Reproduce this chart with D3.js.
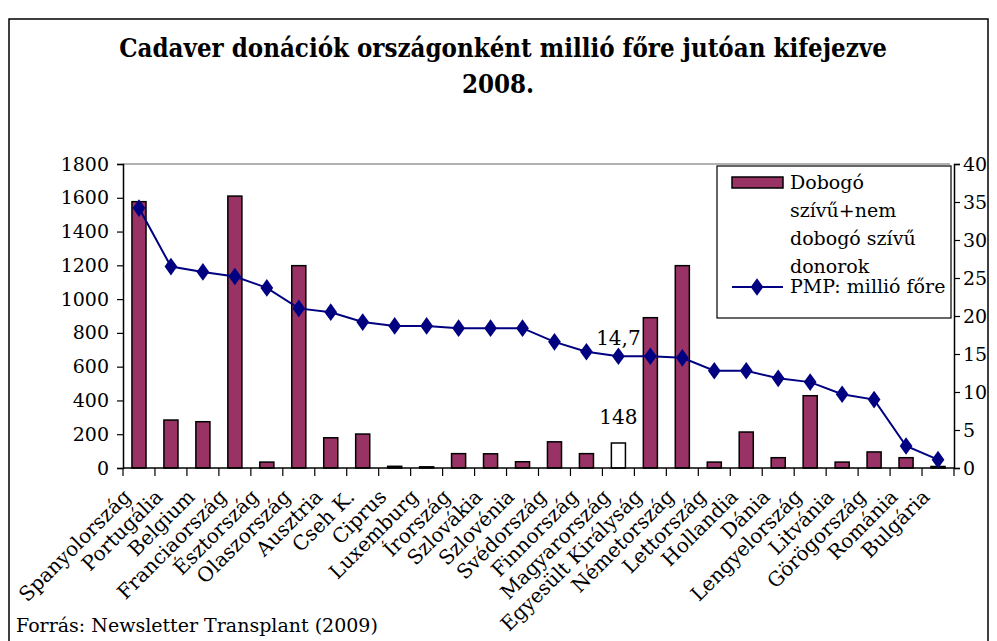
<!DOCTYPE html>
<html>
<head>
<meta charset="utf-8">
<script src="https://cdn.jsdelivr.net/npm/d3@7"></script>
<style>
  body { margin: 0; background: #fff; }
  svg text { font-family: "DejaVu Serif", serif; fill: #000; }
  .title { font-family: "DejaVu Serif Condensed", "DejaVu Serif", serif; font-stretch: condensed; font-weight: bold; }
</style>
</head>
<body>
<div id="chart"></div>
<script>
// data
var countries = ["Spanyolország","Portugália","Belgium","Franciaország","Észtország","Olaszország",
  "Ausztria","Cseh K.","Ciprus","Luxemburg","Írország","Szlovákia","Szlovénia","Svédország",
  "Finnország","Magyarország","Egyesült Királyság","Németország","Lettország","Hollandia",
  "Dánia","Lengyelország","Litvánia","Görögország","Románia","Bulgária"];
var donors = [1577,284,274,1610,35,1198,179,201,10,7,85,84,37,155,85,148,890,1198,35,213,61,428,35,95,61,9];
var pmp = [34.2,26.5,25.8,25.2,23.7,21.0,20.5,19.2,18.7,18.7,18.4,18.4,18.4,16.6,15.3,14.7,14.7,14.5,12.8,12.8,11.8,11.3,9.7,9.0,2.9,1.1];
var leftTicks = [0,200,400,600,800,1000,1200,1400,1600,1800];
var rightTicks = [0,5,10,15,20,25,30,35,40];
var highlight = "Magyarország";
var titleLines = ["Cadaver donációk országonként millió főre jutóan kifejezve", "2008."];
var legendBar = ["Dobogó", "szívű+nem", "dobogó szívű", "donorok"];
var legendLine = "PMP: millió főre";
var source = "Forrás: Newsletter Transplant (2009)";

var width = 997, height = 641;
var pLeft = 123, pRight = 954, pTop = 164, pBottom = 468;

var svg = d3.select("#chart").append("svg").attr("width", width).attr("height", height);

// outer frame
svg.append("rect").attr("x", 9).attr("y", 19).attr("width", 979).attr("height", 640)
  .attr("fill", "none").attr("stroke", "#000").attr("stroke-width", 1.5);

// title, fit to the reference width
var tl = svg.append("text").attr("class", "title").attr("x", 503).attr("y", 57).attr("text-anchor", "middle")
  .style("font-size", "24px").text(titleLines[0]);
var w0 = tl.node().getComputedTextLength();
var fs = 24 * 768 / w0;
tl.style("font-size", fs + "px");
svg.append("text").attr("class", "title").attr("x", 498).attr("y", 93).attr("text-anchor", "middle")
  .style("font-size", fs + "px").text(titleLines[1]);

var x = d3.scaleBand().domain(countries).range([pLeft, pRight]).paddingInner(0.56).paddingOuter(0.28);
var yL = d3.scaleLinear().domain([0, 1800]).range([pBottom, pTop]);
var yR = d3.scaleLinear().domain([0, 40]).range([pBottom, pTop]);

// plot area top border
svg.append("line").attr("x1", pLeft).attr("x2", pRight - 4).attr("y1", pTop).attr("y2", pTop)
  .attr("stroke", "#999").attr("stroke-width", 1.5);

// bars
svg.append("g").selectAll("rect").data(countries).enter().append("rect")
  .attr("x", function(d) { return x(d); })
  .attr("width", x.bandwidth())
  .attr("y", function(d, i) { return yL(donors[i]); })
  .attr("height", function(d, i) { return pBottom - yL(donors[i]); })
  .attr("fill", function(d) { return d == highlight ? "#fff" : "#993366"; })
  .attr("stroke", "#000").attr("stroke-width", 1.5);

// axes
var gl = svg.append("g").attr("transform", "translate(" + pLeft + ",0)")
  .call(d3.axisLeft(yL).tickValues(leftTicks).tickFormat(d3.format("d")).tickSize(6).tickPadding(8));
var gr = svg.append("g").attr("transform", "translate(" + pRight + ",0)")
  .call(d3.axisRight(yR).tickValues(rightTicks).tickSize(6).tickPadding(3));
[gl, gr].forEach(function(g) {
  g.select(".domain").attr("stroke", "#000").attr("stroke-width", 1.5);
  g.selectAll(".tick line").attr("stroke", "#000").attr("stroke-width", 1.2);
  g.selectAll("text").style("font-family", "DejaVu Serif").style("font-size", "19px");
});

svg.append("line").attr("x1", pLeft).attr("x2", pRight).attr("y1", pBottom).attr("y2", pBottom)
  .attr("stroke", "#000").attr("stroke-width", 1.5);
var step = x.step();
svg.append("g").selectAll("line").data(d3.range(countries.length + 1)).enter().append("line")
  .attr("x1", function(i) { return pLeft + i * step; })
  .attr("x2", function(i) { return pLeft + i * step; })
  .attr("y1", pBottom).attr("y2", pBottom + 8)
  .attr("stroke", "#000").attr("stroke-width", 1.2);

// category labels
svg.append("g").selectAll("text").data(countries).enter().append("text")
  .attr("text-anchor", "end")
  .attr("transform", function(d) {
    return "translate(" + (x(d) + x.bandwidth() / 2 - 7) + "," + (pBottom + 30) + ") rotate(-45)";
  })
  .style("font-size", "20px")
  .text(function(d) { return d; });

// line series
var cx = function(d) { return x(d) + x.bandwidth() / 2; };
var line = d3.line().x(function(d, i) { return cx(countries[i]); }).y(function(d) { return yR(d); });
svg.append("path").datum(pmp).attr("d", line).attr("fill", "none")
  .attr("stroke", "#000080").attr("stroke-width", 2);
var diamond = d3.symbol().type(d3.symbolDiamond).size(90);
svg.append("g").selectAll("path").data(pmp).enter().append("path")
  .attr("d", diamond)
  .attr("transform", function(d, i) { return "translate(" + cx(countries[i]) + "," + yR(d) + ") scale(1.25,1)"; })
  .attr("fill", "#000080");

// value labels for Magyarország
var hi = countries.indexOf(highlight);
svg.append("text").attr("x", cx(highlight)).attr("y", yR(pmp[hi]) - 11).attr("text-anchor", "middle")
  .style("font-size", "20px").text(String(pmp[hi]).replace(".", ","));
svg.append("text").attr("x", cx(highlight)).attr("y", yL(donors[hi]) - 19).attr("text-anchor", "middle")
  .style("font-size", "20px").text(donors[hi]);

// legend
var lg = svg.append("g").attr("transform", "translate(717,166)");
lg.append("rect").attr("width", 234).attr("height", 152).attr("fill", "#fff")
  .attr("stroke", "#000").attr("stroke-width", 1.2);
lg.append("rect").attr("x", 15).attr("y", 11).attr("width", 51).attr("height", 11)
  .attr("fill", "#993366").attr("stroke", "#000").attr("stroke-width", 1.5);
lg.selectAll("text.lb").data(legendBar).enter().append("text").attr("class", "lb")
  .attr("x", 73).attr("y", function(d, i) { return 23 + i * 28; })
  .style("font-size", "19px").text(function(d) { return d; });
lg.append("line").attr("x1", 15).attr("x2", 66).attr("y1", 121).attr("y2", 121)
  .attr("stroke", "#000080").attr("stroke-width", 2);
lg.append("path").attr("d", diamond).attr("transform", "translate(40,121) scale(1.25,1)").attr("fill", "#000080");
lg.append("text").attr("x", 73).attr("y", 127).style("font-size", "19px").text(legendLine);

// source
svg.append("text").attr("x", 16).attr("y", 632).style("font-size", "19px").text(source);
</script>
</body>
</html>
